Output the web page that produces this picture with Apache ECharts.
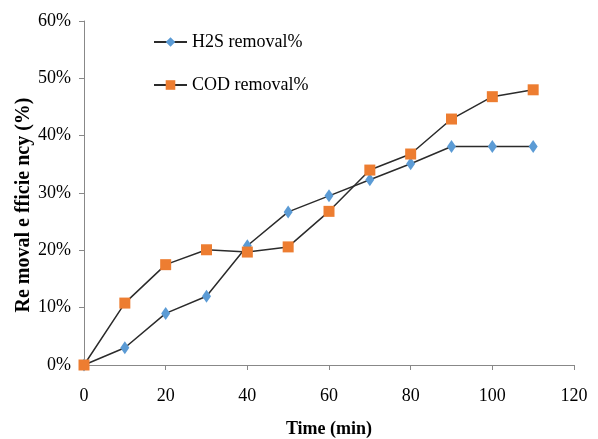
<!DOCTYPE html>
<html><head><meta charset="utf-8">
<script src="https://cdn.jsdelivr.net/npm/echarts@6/dist/echarts.min.js"></script>
<style>html,body{margin:0;padding:0;background:#fff}#c{width:598px;height:439px}</style>
</head><body><div id="c"></div>
<script>
const times = [0, 10, 20, 30, 40, 50, 60, 70, 80, 90, 100, 110];
const h2sRemoval = [0, 3.0, 9.0, 12.0, 20.8, 26.7, 29.5, 32.3, 35.1, 38.1, 38.1, 38.1];
const codRemoval = [0, 10.8, 17.5, 20.1, 19.7, 20.6, 26.8, 34.0, 36.8, 42.9, 46.8, 48.0];
const seriesNames = ['H2S removal%', 'COD removal%'];
const xTitle = 'Time (min)';
const yTitle = 'Re moval e fficie ncy (%)';

const font = 'Liberation Serif';
const chart = echarts.init(document.getElementById('c'));
chart.setOption({
  animation: false,
  grid: {left: 84, right: 24, top: 21, bottom: 74, containLabel: false, outerBoundsMode: 'none'},
  legend: {
    orient: 'vertical', left: 148, top: 28, itemGap: 25,
    itemWidth: 33, itemHeight: 12,
    textStyle: {fontFamily: font, fontSize: 18, color: '#000'},
    data: seriesNames
  },
  xAxis: {
    type: 'value', min: 0, max: 120, interval: 20,
    name: xTitle, nameLocation: 'middle', nameGap: 55, nameMoveOverlap: false,
    nameTextStyle: {fontFamily: font, fontSize: 18, fontWeight: 'bold', color: '#000'},
    axisLine: {lineStyle: {color: '#888', width: 1}},
    axisTick: {show: true, length: 5, lineStyle: {color: '#888'}},
    splitLine: {show: false},
    axisLabel: {fontFamily: font, fontSize: 18, color: '#000', margin: 22}
  },
  yAxis: {
    type: 'value', min: 0, max: 60, interval: 10,
    name: yTitle, nameLocation: 'middle', nameGap: 50, nameMoveOverlap: false,
    nameTextStyle: {fontFamily: font, fontSize: 20, fontWeight: 'bold', color: '#000', padding: [0, 24, 0, 0]},
    axisLine: {show: true, lineStyle: {color: '#888', width: 1}},
    axisTick: {show: true, length: 5, lineStyle: {color: '#888'}},
    splitLine: {show: false},
    axisLabel: {fontFamily: font, fontSize: 18, color: '#000', margin: 13, formatter: '{value}%'}
  },
  series: [
    {
      name: seriesNames[0], type: 'line',
      data: times.map((t, i) => [t, h2sRemoval[i]]),
      symbol: 'diamond', symbolSize: [9, 13],
      itemStyle: {color: '#5b9bd5'},
      lineStyle: {color: '#2b2b2b', width: 1.5}
    },
    {
      name: seriesNames[1], type: 'line',
      data: times.map((t, i) => [t, codRemoval[i]]),
      symbol: 'rect', symbolSize: 11,
      itemStyle: {color: '#ed7d31'},
      lineStyle: {color: '#2b2b2b', width: 1.5}
    }
  ]
});
</script></body></html>
